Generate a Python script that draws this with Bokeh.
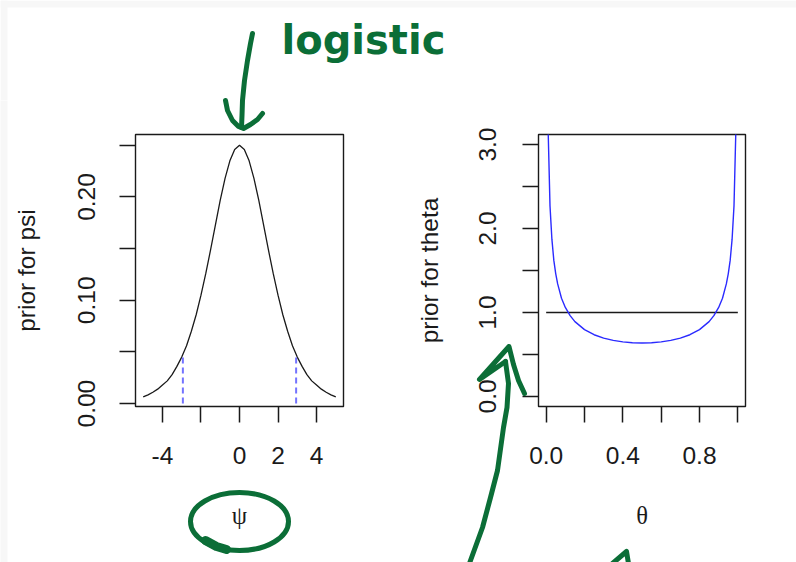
from bokeh.plotting import figure
from bokeh.layouts import column, row
from bokeh.models import Range1d, FixedTicker
from bokeh.embed import file_html
from bokeh.resources import INLINE
from bokeh.core.properties import value

# ---------------- data ----------------
psi_x = [-5.0, -4.75, -4.5, -4.25, -4.0, -3.75, -3.5, -3.25, -3.0, -2.75, -2.5,
         -2.25, -2.0, -1.75, -1.5, -1.25, -1.0, -0.75, -0.5, -0.25, 0.0,
         0.25, 0.5, 0.75, 1.0, 1.25, 1.5, 1.75, 2.0, 2.25, 2.5,
         2.75, 3.0, 3.25, 3.5, 3.75, 4.0, 4.25, 4.5, 4.75, 5.0]
psi_prior = [0.0066, 0.0085, 0.011, 0.014, 0.018, 0.022, 0.028, 0.036, 0.045, 0.056, 0.070,
             0.086, 0.105, 0.126, 0.149, 0.173, 0.197, 0.218, 0.235, 0.246, 0.250,
             0.246, 0.235, 0.218, 0.197, 0.173, 0.149, 0.126, 0.105, 0.086, 0.070,
             0.056, 0.045, 0.036, 0.028, 0.022, 0.018, 0.014, 0.011, 0.0085, 0.0066]
psi_interval = [-2.94, 2.94]
psi_interval_top = [0.046, 0.046]

theta_x = [0.01, 0.02, 0.03, 0.04, 0.05, 0.06, 0.08, 0.10, 0.125, 0.15, 0.20, 0.25,
           0.30, 0.35, 0.40, 0.45, 0.50, 0.55, 0.60, 0.65, 0.70, 0.75, 0.80,
           0.85, 0.875, 0.90, 0.92, 0.94, 0.95, 0.96, 0.97, 0.98, 0.99]
theta_prior_blue = [3.20, 2.27, 1.87, 1.62, 1.46, 1.34, 1.17, 1.06, 0.962, 0.891, 0.796, 0.735,
                    0.695, 0.667, 0.650, 0.640, 0.637, 0.640, 0.650, 0.667, 0.695, 0.735, 0.796,
                    0.891, 0.962, 1.06, 1.17, 1.34, 1.46, 1.62, 1.87, 2.27, 3.20]
theta_flat_x = [0.0, 1.0]
theta_flat = [1.0, 1.0]

psi_ticks = [-4, -2, 0, 2, 4]
psi_tick_labels = ["-4", "", "0", "2", "4"]
psi_yticks = [0.0, 0.05, 0.10, 0.15, 0.20, 0.25]
psi_ytick_labels = ["0.00", "", "0.10", "", "0.20", ""]
theta_ticks = [0.0, 0.2, 0.4, 0.6, 0.8, 1.0]
theta_tick_labels = ["0.0", "", "0.4", "", "0.8", ""]
theta_yticks = [0.0, 0.5, 1.0, 1.5, 2.0, 2.5, 3.0]
theta_ytick_labels = ["0.0", "", "1.0", "", "2.0", "", "3.0"]

# ---------------- styles ----------------
SANS = "Liberation Sans"
SERIF = "Liberation Serif"
INK = "#1a1a1a"
GREEN = "#0b6e37"
STRIP = "#f7f7f7"
PEN = 5


def style_axes(p, xt, xl, yt, yl, xtitle, ytitle, ystand, ytitle_stand):
    p.xaxis.ticker = FixedTicker(ticks=xt)
    p.xaxis.major_label_overrides = {t: l for t, l in zip(xt, xl)}
    p.yaxis.ticker = FixedTicker(ticks=yt)
    p.yaxis.major_label_overrides = {t: l for t, l in zip(yt, yl)}
    p.yaxis.major_label_orientation = "vertical"
    for ax in (p.xaxis[0], p.yaxis[0]):
        ax.axis_line_color = None
        ax.major_tick_out = 16
        ax.major_tick_in = 0
        ax.minor_tick_out = 0
        ax.minor_tick_in = 0
        ax.major_tick_line_color = INK
        ax.major_tick_line_width = 1.5
        ax.major_label_text_font = SANS
        ax.major_label_text_font_size = "24.5px"
        ax.major_label_text_color = INK
        ax.axis_label_text_font_style = "normal"
        ax.axis_label_text_color = INK
        ax.axis_label_text_font_size = "24.5px"
    p.xaxis.axis_label = xtitle
    p.xaxis.axis_label_text_font = SERIF
    p.xaxis.major_label_standoff = 24
    p.xaxis.axis_label_standoff = 35
    p.yaxis.axis_label = ytitle
    p.yaxis.axis_label_text_font = SANS
    p.yaxis.major_label_standoff = ystand
    p.yaxis.axis_label_standoff = ytitle_stand
    p.grid.visible = False
    p.outline_line_color = INK
    p.outline_line_width = 1.4
    p.background_fill_color = "white"
    p.border_fill_color = "white"


def pen(p, xs, ys, width=PEN):
    p.line(xs, ys, line_color=GREEN, line_width=width, line_cap="round",
           line_join="round", level="overlay", x_range_name="px", y_range_name="px")


# ---------------- top strip (annotation "logistic") ----------------
top = figure(width=796, height=100, x_range=Range1d(0, 796), y_range=Range1d(100, 0),
             x_axis_location=None, y_axis_location=None, toolbar_location=None,
             output_backend="svg", min_border=0)
top.outline_line_color = None
top.grid.visible = False
top.extra_x_ranges = {"px": Range1d(0, 796)}
top.extra_y_ranges = {"px": Range1d(100, 0)}
top.quad(left=[0], right=[796], top=[0], bottom=[7], fill_color=STRIP, line_color=None)
top.quad(left=[0], right=[7], top=[0], bottom=[100], fill_color=STRIP, line_color=None)
top.text(x=[281], y=[39], text=["logistic"], text_font=value("DejaVu Sans"),
         text_font_size="40px", text_font_style="bold", text_color=GREEN,
         text_align="left", text_baseline="alphabetic")

arrow1_stem_x = [252, 250, 247, 244, 242, 241.5, 241]
arrow1_stem_y = [33, 43, 60, 80, 100, 115, 127]
arrow1_hook_x = [225, 227, 232, 238, 243, 250, 257, 262]
arrow1_hook_y = [100, 110, 120, 126, 128, 124, 119, 113]

pen(top, arrow1_stem_x, arrow1_stem_y)
pen(top, arrow1_hook_x, arrow1_hook_y)

# ---------------- left panel: psi ----------------
left = figure(frame_width=208, frame_height=272, min_border_left=135, min_border_right=37,
              min_border_top=34, min_border_bottom=156,
              x_range=Range1d(-5.4, 5.4), y_range=Range1d(-0.0028, 0.2605),
              toolbar_location=None, output_backend="svg")
style_axes(left, psi_ticks, psi_tick_labels, psi_yticks, psi_ytick_labels,
           "\u03c8", "prior for psi", 24, 36)
left.line(psi_x, psi_prior, line_color=INK, line_width=1.3)
left.segment(x0=psi_interval, y0=[0, 0], x1=psi_interval, y1=psi_interval_top,
             line_color="#7373ff", line_width=2, line_dash="6 4")

left.extra_x_ranges = {"px": Range1d(135, 343)}
left.extra_y_ranges = {"px": Range1d(406, 134)}
left.quad(left=[0], right=[7], top=[100], bottom=[562], fill_color=STRIP, line_color=None,
          level="overlay", x_range_name="px", y_range_name="px")
pen(left, arrow1_stem_x, arrow1_stem_y)
pen(left, arrow1_hook_x, arrow1_hook_y)
left.ellipse(x=[239], y=[521], width=[98], height=[58], fill_color=None, line_color=GREEN,
             line_width=PEN, level="overlay", x_range_name="px", y_range_name="px")
pen(left, [205, 216, 226], [540, 546, 549], width=9)

# ---------------- right panel: theta ----------------
right = figure(frame_width=207, frame_height=272, min_border_left=158, min_border_right=51,
               min_border_top=34, min_border_bottom=156,
               x_range=Range1d(-0.04, 1.04), y_range=Range1d(-0.12, 3.12),
               toolbar_location=None, output_backend="svg")
style_axes(right, theta_ticks, theta_tick_labels, theta_yticks, theta_ytick_labels,
           "\u03b8", "prior for theta", 26, 34)
right.line(theta_flat_x, theta_flat, line_color=INK, line_width=1.3)
right.line(theta_x, theta_prior_blue, line_color="#2b2bff", line_width=1.4)

right.extra_x_ranges = {"px": Range1d(538, 745)}
right.extra_y_ranges = {"px": Range1d(406, 134)}
pen(right, [524, 518, 513, 508.5, 479, 505],
    [393, 380, 364, 346, 379, 361])
pen(right, [505, 508, 506.5, 503, 497, 490, 482, 470, 465],
    [361, 383, 407, 427, 470, 497, 527, 560, 575])
pen(right, [612, 626, 628], [563, 551, 563])

layout = column(top, row(left, right))

open("out.html", "w").write(file_html(layout, INLINE))
